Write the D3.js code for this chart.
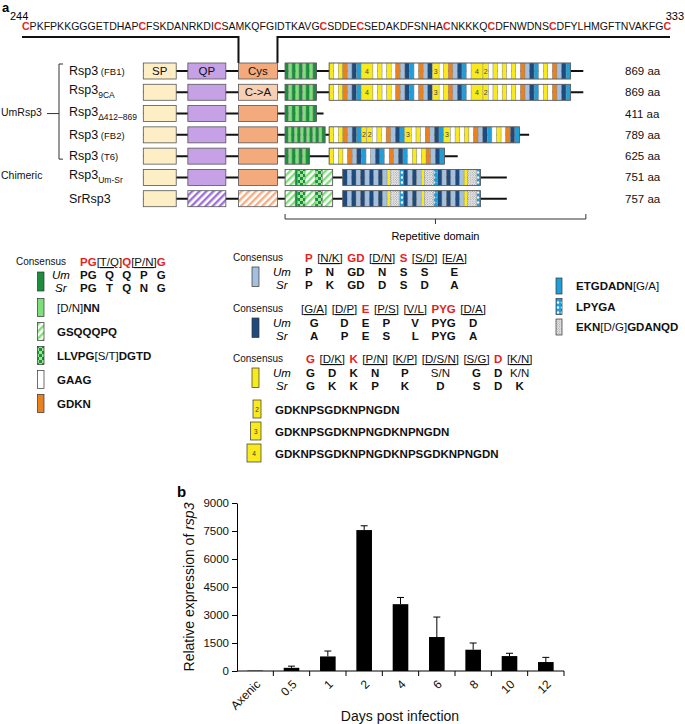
<!DOCTYPE html>
<html><head><meta charset="utf-8">
<script src="https://cdn.jsdelivr.net/npm/d3@7"></script>
<style>
body{margin:0;background:#fff;}
svg{display:block;font-family:"Liberation Sans",Arial,Helvetica,sans-serif;}
</style></head><body>
<svg id="c" width="685" height="724"></svg>
<script>
// ================= DATA =================
// Panel a – sequence of the Cys-rich region
const seqResidues = "CPKFPKKGGGETDHAPCFSKDANRKDICSAMKQFGIDTKAVGCSDDECSEDAKDFSNHACNKKKQCDFNWDNSCDFYLHMGFTNVAKFGC";
const seqRange = ["244", "333"];

// Panel a – constructs (schematic units, ~aa)
const constructNames = ["FB1", "9CA", "D412", "FB2", "T6", "UmSr", "Sr"];
const constructLengths = [869, 869, 411, 789, 625, 751, 757];
const spDomain = [0, 65];
const qpDomain = [88, 163];
const cysDomain = [188, 265];
const greenStart = 280;
const greenEnd = [342, 342, 342, 359, 328, 374, 374];
const repStart = [367, 367, null, 367, 367, 394, 394];
const repEnd = [844, 844, null, 743, 595, 666, 666];
const tailEnd = [869, 869, 356, 762, 621, 718, 718];
const repeatDomainSpan = [280, 874];

const greenCodes = ["glglglglg", "glglglglg", "glglglglg", "glglglglglglg", "glglglg", "hgkhkh", "hgkhkh"];
const repeatCodes = [
  "YWYOBNC4WYWYWOBNCWOBN3WYOBNCW42WYWYWYWOBNCWYWOBNC",
  "YWYOBNC4WYWYWOBNCWOBN3WYOBNCW42WYWYWYWOBNCWYWOBNC",
  null,
  "YWYOBNC22WYWOBNC3WYWOBNC3WYWYWOBNCWYWONC",
  "YWYWOBNCWBNCWOBNCWYWYOBNC",
  "NBNBNBNBNByDPNBNByDPNBNBNByDP",
  "NBNBNBNBNByDPNBNByDPNBNBNByDP"
];

// Legend contents
const legendLeftCons = ["PG", "[T/Q]", "Q", "[P/N]", "G"];
const legendLeftUm = ["PG", "Q", "Q", "P", "G"];
const legendLeftSr = ["PG", "T", "Q", "N", "G"];
const legendLeftItems = [
  {code: "l", parts: [["[D/N]", 0], ["NN", 1]]},
  {code: "h", parts: [["GSQQQPQ", 1]]},
  {code: "k", parts: [["LLVPG", 1], ["[S/T]", 0], ["DGTD", 1]]},
  {code: "W", parts: [["GAAG", 1]]},
  {code: "O", parts: [["GDKN", 1]]}
];
const consRows = [
  {code: "B", cons: ["P", "[N/K]", "GD", "[D/N]", "S", "[S/D]", "[E/A]"],
   um: ["P", "N", "GD", "N", "S", "S", "E"], sr: ["P", "K", "GD", "D", "S", "D", "A"]},
  {code: "N", cons: ["[G/A]", "[D/P]", "E", "[P/S]", "[V/L]", "PYG", "[D/A]"],
   um: ["G", "D", "E", "P", "V", "PYG", "D"], sr: ["A", "P", "E", "S", "L", "PYG", "A"]},
  {code: "Y", cons: ["G", "[D/K]", "K", "[P/N]", "[K/P]", "[D/S/N]", "[S/G]", "D", "[K/N]"],
   um: ["G", "D", "K", "N", "P", "S/N", "G", "D", "K/N"], sr: ["G", "K", "K", "P", "K", "D", "S", "D", "K"]}
];
const repeatBoxes = [
  {code: "2", seq: "GDKNPSGDKNPNGDN"},
  {code: "3", seq: "GDKNPSGDKNPNGDKNPNGDN"},
  {code: "4", seq: "GDKNPSGDKNPNGDKNPSGDKNPNGDN"}
];
const legendRightItems = [
  {code: "C", parts: [["ETGDADN", 1], ["[G/A]", 0]]},
  {code: "P", parts: [["LPYGA", 1]]},
  {code: "D", parts: [["EKN", 1], ["[D/G]", 0], ["GDANQD", 1]]}
];

// Panel b – relative expression of rsp3
const days = ["Axenic", "0.5", "1", "2", "4", "6", "8", "10", "12"];
const expression = [20, 170, 780, 7550, 3580, 1820, 1140, 800, 480];
const expressionErr = [0, 90, 290, 230, 360, 1070, 360, 150, 250];
const yTicks = [0, 1500, 3000, 4500, 6000, 7500, 9000];

// ================= STYLES =================
const RED = "#e5231d";
const segStyle = {
  g: {w: 1, fill: "#1b8f3e"}, l: {w: 1, fill: "#7ddf77"},
  h: {w: 4, fill: "url(#hGreen)"}, k: {w: 3, fill: "url(#chk)"},
  Y: {w: 1, fill: "#f9ea1e"}, y: {w: 0.7, fill: "#f9ea1e"}, W: {w: 1, fill: "#ffffff"},
  O: {w: 1, fill: "#e9811f"}, B: {w: 1, fill: "#a5c0dd"}, N: {w: 1, fill: "#1f4a7c"},
  C: {w: 1, fill: "#1f9fda"},
  "2": {w: 1.2, fill: "#f9ea1e"}, "3": {w: 1.5, fill: "#f9ea1e"}, "4": {w: 2.6, fill: "#f9ea1e"},
  D: {w: 2.2, fill: "url(#dots)"}, P: {w: 0.8, fill: "url(#lpyga)"}
};

const svg = d3.select("#c");
const defs = svg.append("defs");
function hatch(id, color) {
  const p = defs.append("pattern").attr("id", id).attr("patternUnits", "userSpaceOnUse")
    .attr("width", 5).attr("height", 5).attr("patternTransform", "rotate(45)");
  p.append("rect").attr("width", 5).attr("height", 5).attr("fill", "#fff");
  p.append("rect").attr("width", 2.4).attr("height", 5).attr("fill", color);
}
hatch("hQP", "#9f72d6");
hatch("hCys", "#f4ad82");
hatch("hGreen", "#7ddf77");
const ck = defs.append("pattern").attr("id", "chk").attr("patternUnits", "userSpaceOnUse").attr("width", 6).attr("height", 6);
ck.append("rect").attr("width", 6).attr("height", 6).attr("fill", "#1b8f3e");
ck.append("rect").attr("width", 3).attr("height", 3).attr("fill", "#9be694");
ck.append("rect").attr("x", 3).attr("y", 3).attr("width", 3).attr("height", 3).attr("fill", "#9be694");
const dt = defs.append("pattern").attr("id", "dots").attr("patternUnits", "userSpaceOnUse").attr("width", 2.4).attr("height", 2.4);
dt.append("rect").attr("width", 2.4).attr("height", 2.4).attr("fill", "#f4f4f4");
dt.append("circle").attr("cx", 0.6).attr("cy", 0.6).attr("r", 0.5).attr("fill", "#555");
dt.append("circle").attr("cx", 1.8).attr("cy", 1.8).attr("r", 0.5).attr("fill", "#777");
const lp = defs.append("pattern").attr("id", "lpyga").attr("patternUnits", "userSpaceOnUse").attr("width", 4).attr("height", 5);
lp.append("rect").attr("width", 4).attr("height", 5).attr("fill", "#1f9fda");
lp.append("circle").attr("cx", 2).attr("cy", 2.5).attr("r", 1.2).attr("fill", "#fff");

// ================= PANEL A =================
const A = svg.append("g");
A.append("text").attr("x", 2).attr("y", 12).attr("font-size", 13).attr("font-weight", "bold").text("a");
A.append("text").attr("x", 10).attr("y", 20).attr("font-size", 11).text(seqRange[0]);
A.append("text").attr("x", 684).attr("y", 20).attr("font-size", 11).attr("text-anchor", "end").text(seqRange[1]);

// sequence with red cysteines
const runs = [];
seqResidues.split("").forEach(ch => {
  const red = ch === "C";
  if (runs.length && runs[runs.length - 1].red === red) runs[runs.length - 1].t += ch;
  else runs.push({t: ch, red});
});
const seqText = A.append("text").attr("x", 22).attr("y", 30).attr("font-size", 11)
  .attr("textLength", 649).attr("lengthAdjust", "spacingAndGlyphs");
seqText.selectAll("tspan").data(runs).join("tspan")
  .attr("fill", d => d.red ? RED : "#111").attr("font-weight", d => d.red ? "bold" : "normal").text(d => d.t);

const xs = d3.scaleLinear().domain([0, 869]).range([143.3, 583.3]);
const ys = d3.scalePoint().domain(constructNames).range([71, 198.7]);
const BH = 16;

// connector from sequence to Cys box
A.append("path").attr("fill", "none").attr("stroke", "#111").attr("stroke-width", 2)
  .attr("d", `M22,37H${xs(cysDomain[0])}V${ys("FB1") - BH / 2}M${xs(cysDomain[1])},${ys("FB1") - BH / 2}V37H670`);

function drawSegments(g, codes, x0, x1, yc) {
  const arr = codes.split("");
  const total = d3.sum(arr, c => segStyle[c].w);
  const sx = d3.scaleLinear().domain([0, total]).range([x0, x1]);
  let acc = 0;
  const segs = arr.map(c => { const s = {c, a: acc, b: acc + segStyle[c].w}; acc = s.b; return s; });
  g.append("g").selectAll("rect").data(segs).join("rect")
    .attr("x", d => sx(d.a)).attr("width", d => sx(d.b) - sx(d.a))
    .attr("y", yc - BH / 2).attr("height", BH).attr("fill", d => segStyle[d.c].fill)
    .attr("stroke", "#8a8a8a").attr("stroke-width", 0.4);
  g.append("g").selectAll("text").data(segs.filter(d => "234".includes(d.c))).join("text")
    .attr("x", d => (sx(d.a) + sx(d.b)) / 2).attr("y", yc + 2.5).attr("text-anchor", "middle")
    .attr("font-size", 7).attr("fill", "#444").text(d => d.c);
  g.append("rect").attr("x", x0).attr("y", yc - BH / 2).attr("width", x1 - x0).attr("height", BH)
    .attr("fill", "none").attr("stroke", "#555").attr("stroke-width", 0.8);
}

constructNames.forEach((name, i) => {
  const yc = ys(name);
  const g = A.append("g");
  g.append("line").attr("x1", xs(spDomain[0])).attr("x2", xs(tailEnd[i])).attr("y1", yc).attr("y2", yc)
    .attr("stroke", "#111").attr("stroke-width", 2);
  const box = (dom, fill, label) => {
    g.append("rect").attr("x", xs(dom[0])).attr("y", yc - BH / 2).attr("width", xs(dom[1]) - xs(dom[0]))
      .attr("height", BH).attr("fill", fill).attr("stroke", "#555").attr("stroke-width", 0.8);
    if (label) g.append("text").attr("x", (xs(dom[0]) + xs(dom[1])) / 2).attr("y", yc + 4)
      .attr("text-anchor", "middle").attr("font-size", 11.5).attr("fill", "#111").text(label);
  };
  box(spDomain, "#fdeec6", i === 0 ? "SP" : null);
  box(qpDomain, name === "Sr" ? "url(#hQP)" : "#c6a1e6", i === 0 ? "QP" : null);
  box(cysDomain, name === "Sr" ? "url(#hCys)" : (name === "9CA" ? "#f8cfb3" : "#f3aa7d"),
      i === 0 ? "Cys" : (name === "9CA" ? "C->A" : null));
  drawSegments(g, greenCodes[i], xs(greenStart), xs(greenEnd[i]), yc);
  if (repeatCodes[i]) drawSegments(g, repeatCodes[i], xs(repStart[i]), xs(repEnd[i]), yc);
  g.append("text").attr("x", 625).attr("y", yc + 4).attr("font-size", 11.5).attr("fill", "#111")
    .text(constructLengths[i] + " aa");
});

// construct labels
const labelDefs = {
  FB1: ["Rsp3", " (FB1)", "paren"], "9CA": ["Rsp3", "9CA", "sub"], D412: ["Rsp3", "\u0394412\u2013869", "sub"],
  FB2: ["Rsp3", " (FB2)", "paren"], T6: ["Rsp3", " (T6)", "paren"], UmSr: ["Rsp3", "Um-Sr", "sub"], Sr: ["SrRsp3", "", "none"]
};
constructNames.forEach(name => {
  const [main, extra, kind] = labelDefs[name];
  const yc = ys(name);
  const t = A.append("text").attr("x", 69).attr("y", yc + (kind === "sub" ? 2 : 4)).attr("font-size", 12.5).attr("fill", "#111");
  t.append("tspan").text(main);
  if (kind === "paren") t.append("tspan").attr("font-size", 9.5).text(extra);
  if (kind === "sub") t.append("tspan").attr("font-size", 8.5).attr("dy", 4).text(extra);
});
A.append("text").attr("x", 1).attr("y", 116).attr("font-size", 10.5).attr("fill", "#111").text("UmRsp3");
A.append("text").attr("x", 1).attr("y", 179).attr("font-size", 10.5).attr("fill", "#111").text("Chimeric");
A.append("path").attr("fill", "none").attr("stroke", "#333").attr("stroke-width", 1)
  .attr("d", `M63,${ys("FB1") - 7}H59V${ys("T6") + 3}H63M47,${ys("D412")}H59`);

// repetitive domain bracket
const rx0 = xs(repeatDomainSpan[0]), rx1 = xs(repeatDomainSpan[1]), rxm = (rx0 + rx1) / 2;
A.append("path").attr("fill", "none").attr("stroke", "#333").attr("stroke-width", 1)
  .attr("d", `M${rx0},214V219H${rx1}V214M${rxm},219V224`);
A.append("text").attr("x", rxm).attr("y", 240).attr("text-anchor", "middle").attr("font-size", 11).text("Repetitive domain");

// ---- legend ----
function legendBox(x, y, w, h, code) {
  A.append("rect").attr("x", x).attr("y", y).attr("width", w).attr("height", h)
    .attr("fill", segStyle[code].fill).attr("stroke", "#333").attr("stroke-width", 0.7);
}
function mixedText(x, y, parts, size) {
  const t = A.append("text").attr("x", x).attr("y", y).attr("font-size", size).attr("fill", "#111");
  parts.forEach(([s, b]) => t.append("tspan").attr("font-weight", b ? "bold" : "normal").text(s));
}
function consensusBlock(xLab, xCons, yCons, xUm, xSr, yUm, ySr, cons, um, sr, gap) {
  A.append("text").attr("x", xLab).attr("y", yCons - 1).attr("font-size", 10).attr("fill", "#111").text("Consensus");
  let x = xCons; const centers = [];
  cons.forEach(tk => {
    const red = !tk.startsWith("[");
    const t = A.append("text").attr("x", x).attr("y", yCons).attr("font-size", 11.5)
      .attr("font-weight", red ? "bold" : "normal").attr("fill", red ? RED : "#111").text(tk);
    if (!red) t.style("text-decoration", "underline");
    const w = t.node().getComputedTextLength();
    centers.push(x + w / 2);
    x += w + gap;
  });
  A.append("text").attr("x", xUm).attr("y", yUm).attr("font-size", 11.5).attr("font-style", "italic").text("Um");
  A.append("text").attr("x", xSr).attr("y", ySr).attr("font-size", 11.5).attr("font-style", "italic").text("Sr");
  [[um, yUm], [sr, ySr]].forEach(([arr, yy]) => {
    arr.forEach((tk, j) => A.append("text").attr("x", centers[j]).attr("y", yy).attr("text-anchor", "middle")
      .attr("font-size", 11.5).attr("font-weight", tk.includes("/") ? "normal" : "bold").attr("fill", "#111").text(tk));
  });
}
// left column
consensusBlock(16, 80, 266, 52, 55, 279, 292, legendLeftCons, legendLeftUm, legendLeftSr, 0);
legendBox(37.5, 272, 6.5, 19, "g");
legendLeftItems.forEach((it, i) => {
  const y0 = 298.5 + i * 24;
  legendBox(37.5, y0, 6.5, 18, it.code);
  mixedText(57, y0 + 13.5, it.parts, 11.5);
});
// middle column
const consY = [262, 313, 363];
const consX = [305, 301, 306];
consRows.forEach((r, i) => {
  consensusBlock(233, consX[i], consY[i], 273, 276, consY[i] + 14, consY[i] + 27, r.cons, r.um, r.sr, 4.5);
  legendBox(252, consY[i] + 5, 7, 19.5, r.code);
});
const rbW = {"2": 8, "3": 10.5, "4": 14};
repeatBoxes.forEach((r, i) => {
  const y0 = 400 + i * 22;
  const w = rbW[r.code];
  legendBox(261 - w, y0, w, 18, r.code);
  A.append("text").attr("x", 261 - w / 2).attr("y", y0 + 11.5).attr("text-anchor", "middle").attr("font-size", 6.5)
    .attr("fill", "#333").text(r.code);
  mixedText(275, y0 + 13.5, [[r.seq, 1]], 11.5);
});
// right column
legendRightItems.forEach((it, i) => {
  const y0 = 278 + i * 20.5;
  legendBox(556, y0, 6, 16, it.code);
  mixedText(576, y0 + 12, it.parts, 11.5);
});

// ================= PANEL B =================
const B = svg.append("g");
B.append("text").attr("x", 177).attr("y", 497).attr("font-size", 15).attr("font-weight", "bold").text("b");
const xb = d3.scaleBand().domain(days).range([237, 564]).paddingInner(0.57).paddingOuter(0.285);
const yb = d3.scaleLinear().domain([0, 9000]).range([671, 503]);

const bars = days.map((d, i) => ({d, v: expression[i], e: expressionErr[i]}));
B.append("g").selectAll("rect").data(bars).join("rect")
  .attr("x", d => xb(d.d)).attr("width", xb.bandwidth())
  .attr("y", d => yb(d.v)).attr("height", d => yb(0) - yb(d.v)).attr("fill", "#000");
const eb = B.append("g").attr("stroke", "#000").attr("stroke-width", 1);
bars.filter(d => d.e > 0).forEach(d => {
  const cx = xb(d.d) + xb.bandwidth() / 2;
  eb.append("line").attr("x1", cx).attr("x2", cx).attr("y1", yb(d.v)).attr("y2", yb(d.v + d.e));
  eb.append("line").attr("x1", cx - 3.5).attr("x2", cx + 3.5).attr("y1", yb(d.v + d.e)).attr("y2", yb(d.v + d.e));
});

const yAx = B.append("g").attr("transform", "translate(237,0)")
  .call(d3.axisLeft(yb).tickValues(yTicks).tickFormat(d3.format("d")).tickSize(5).tickSizeOuter(0).tickPadding(3));
yAx.attr("font-family", null);
yAx.selectAll("text").attr("font-size", 11.5).attr("fill", "#111");

// x axis
const x0b = xb.range()[0], x1b = xb.range()[1];
B.append("line").attr("x1", x0b).attr("x2", x1b).attr("y1", yb(0)).attr("y2", yb(0)).attr("stroke", "#000");
B.append("g").selectAll("line").data(d3.range(1, days.length + 1)).join("line")
  .attr("x1", i => x0b + i * xb.step()).attr("x2", i => x0b + i * xb.step())
  .attr("y1", yb(0)).attr("y2", yb(0) + 5).attr("stroke", "#000");
B.append("g").selectAll("text").data(days).join("text")
  .attr("transform", d => `translate(${xb(d) + xb.bandwidth() / 2 + 6},685) rotate(-45)`)
  .attr("text-anchor", "end").attr("font-size", 12).attr("fill", "#111").text(d => d);

const yl = B.append("text").attr("transform", "translate(194,587) rotate(-90)").attr("text-anchor", "middle")
  .attr("font-size", 14).attr("fill", "#111");
yl.append("tspan").text("Relative expression of ");
yl.append("tspan").attr("font-style", "italic").text("rsp3");
B.append("text").attr("x", 400).attr("y", 721).attr("text-anchor", "middle").attr("font-size", 14)
  .attr("fill", "#111").text("Days post infection");
</script>
</body></html>
